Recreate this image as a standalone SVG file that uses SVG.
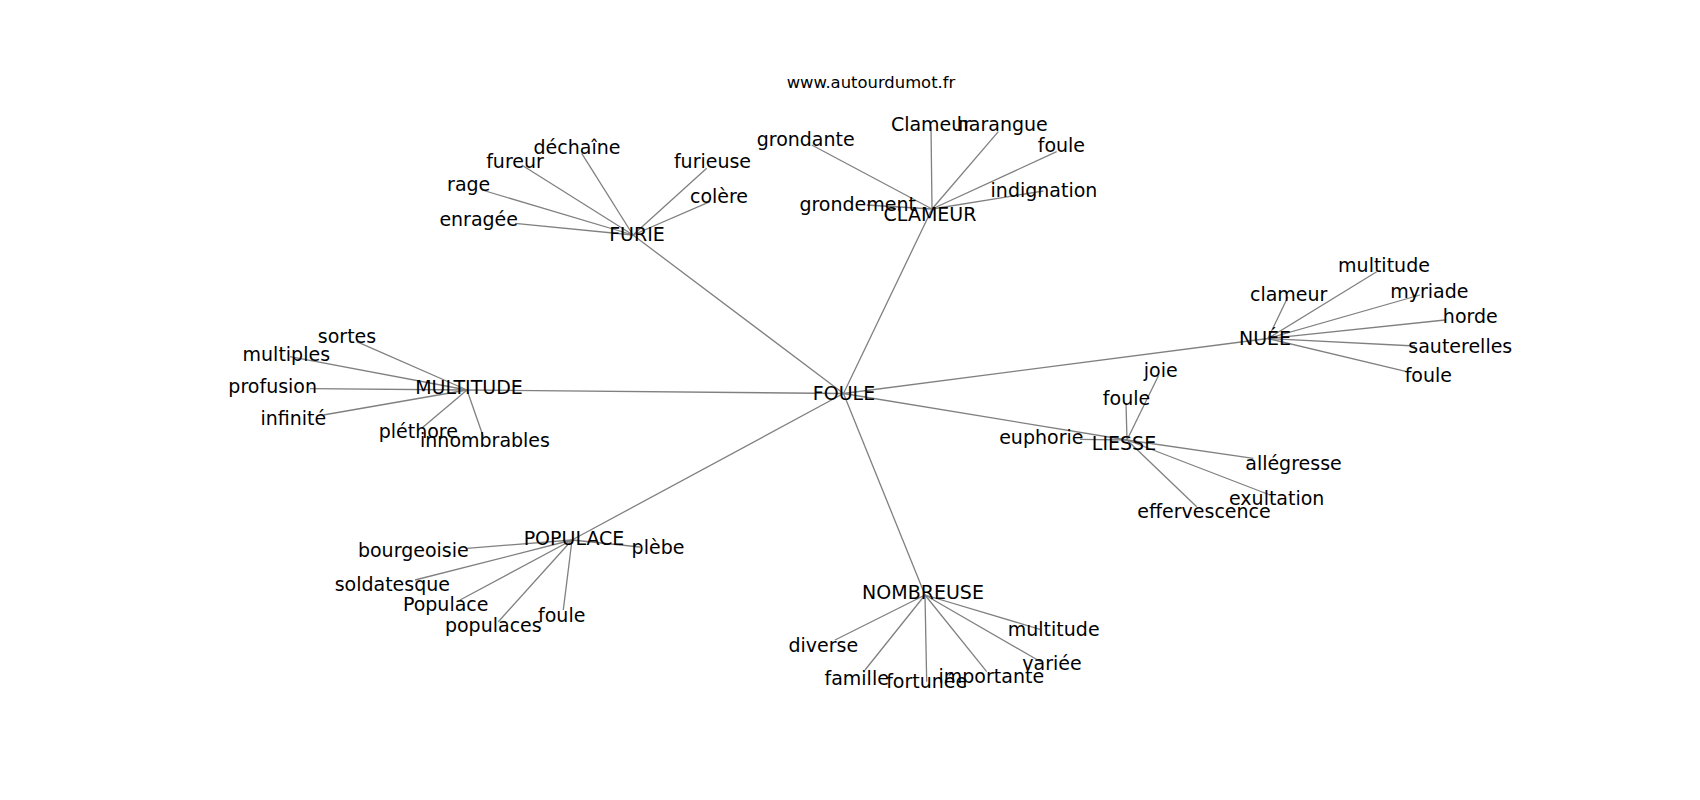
<svg xmlns="http://www.w3.org/2000/svg" width="1700" height="800" viewBox="0 0 1700 800">
<style>
text{font-family:"DejaVu Sans","Liberation Sans",sans-serif;font-size:19px;fill:#000;text-anchor:middle}
.title{font-size:16.4px}
.e line{stroke:#808080;stroke-width:1.3}
</style>
<rect width="1700" height="800" fill="#fff"/>
<g id="connectors" class="e">
<line x1="843.5" y1="393.5" x2="633" y2="235"/>
<line x1="843.5" y1="393.5" x2="932" y2="209"/>
<line x1="843.5" y1="393.5" x2="1268" y2="338.5"/>
<line x1="843.5" y1="393.5" x2="1127" y2="440"/>
<line x1="843.5" y1="393.5" x2="925" y2="595"/>
<line x1="843.5" y1="393.5" x2="572" y2="540"/>
<line x1="843.5" y1="393.5" x2="467" y2="390"/>
<line x1="633" y1="235" x2="581.7" y2="153.3"/>
<line x1="633" y1="235" x2="521.7" y2="165"/>
<line x1="633" y1="235" x2="482" y2="190"/>
<line x1="633" y1="235" x2="515" y2="223.3"/>
<line x1="633" y1="235" x2="706.7" y2="168.3"/>
<line x1="633" y1="235" x2="710" y2="201.7"/>
<line x1="932" y1="209" x2="811.7" y2="145"/>
<line x1="932" y1="209" x2="931" y2="126.7"/>
<line x1="932" y1="209" x2="998.3" y2="131.7"/>
<line x1="932" y1="209" x2="1056.7" y2="151.7"/>
<line x1="932" y1="209" x2="1043.3" y2="191"/>
<line x1="932" y1="209" x2="866.7" y2="205"/>
<line x1="1268" y1="338.5" x2="1288" y2="296.7"/>
<line x1="1268" y1="338.5" x2="1376.7" y2="271.7"/>
<line x1="1268" y1="338.5" x2="1420" y2="295"/>
<line x1="1268" y1="338.5" x2="1445" y2="320"/>
<line x1="1268" y1="338.5" x2="1415" y2="346"/>
<line x1="1268" y1="338.5" x2="1406.7" y2="371.7"/>
<line x1="1127" y1="440" x2="1158.3" y2="376"/>
<line x1="1127" y1="440" x2="1126" y2="403"/>
<line x1="1127" y1="440" x2="1080" y2="439.3"/>
<line x1="1127" y1="440" x2="1253.3" y2="458.3"/>
<line x1="1127" y1="440" x2="1270" y2="495"/>
<line x1="1127" y1="440" x2="1196.7" y2="506.7"/>
<line x1="925" y1="595" x2="835" y2="640"/>
<line x1="925" y1="595" x2="865" y2="670"/>
<line x1="925" y1="595" x2="926.7" y2="681.7"/>
<line x1="925" y1="595" x2="986.7" y2="671.7"/>
<line x1="925" y1="595" x2="1043.3" y2="663.3"/>
<line x1="925" y1="595" x2="1040" y2="629.3"/>
<line x1="572" y1="540" x2="466.7" y2="548.3"/>
<line x1="572" y1="540" x2="415" y2="580"/>
<line x1="572" y1="540" x2="460" y2="600"/>
<line x1="572" y1="540" x2="498.3" y2="621.7"/>
<line x1="572" y1="540" x2="563.3" y2="610"/>
<line x1="572" y1="540" x2="640" y2="547"/>
<line x1="467" y1="390" x2="356.7" y2="341.7"/>
<line x1="467" y1="390" x2="290" y2="356.7"/>
<line x1="467" y1="390" x2="310" y2="388.7"/>
<line x1="467" y1="390" x2="323.3" y2="415"/>
<line x1="467" y1="390" x2="421.7" y2="428.3"/>
<line x1="467" y1="390" x2="483.3" y2="436.7"/>
</g>
<text class="title" x="871" y="88">www.autourdumot.fr</text>
<g id="n-foule"><text x="844" y="400">FOULE</text></g>
<g id="n-furie"><text x="637" y="241">FURIE</text></g>
<g id="n-clameur"><text x="930" y="221">CLAMEUR</text></g>
<g id="n-nuee"><text x="1265" y="345">NUÉE</text></g>
<g id="n-liesse"><text x="1124" y="450">LIESSE</text></g>
<g id="n-nombreuse"><text x="923" y="599">NOMBREUSE</text></g>
<g id="n-populace"><text x="574" y="545">POPULACE</text></g>
<g id="n-multitude"><text x="469" y="394">MULTITUDE</text></g>
<g id="furie-dechaine"><text x="577" y="154">déchaîne</text></g>
<g id="furie-fureur"><text x="515" y="168.3">fureur</text></g>
<g id="furie-rage"><text x="468.7" y="190.7">rage</text></g>
<g id="furie-enragee"><text x="478.7" y="226">enragée</text></g>
<g id="furie-furieuse"><text x="712.5" y="168.3">furieuse</text></g>
<g id="furie-colere"><text x="719" y="202.7">colère</text></g>
<g id="clameur-grondante"><text x="805.7" y="146">grondante</text></g>
<g id="clameur-Clameur"><text x="931" y="131">Clameur</text></g>
<g id="clameur-harangue"><text x="1002.3" y="131">harangue</text></g>
<g id="clameur-foule"><text x="1061.4" y="152.3">foule</text></g>
<g id="clameur-indignation"><text x="1044" y="196.7">indignation</text></g>
<g id="clameur-grondement"><text x="857.7" y="211">grondement</text></g>
<g id="nuee-clameur"><text x="1288.7" y="301">clameur</text></g>
<g id="nuee-multitude"><text x="1384" y="271.7">multitude</text></g>
<g id="nuee-myriade"><text x="1429.3" y="298.3">myriade</text></g>
<g id="nuee-horde"><text x="1470.3" y="322.7">horde</text></g>
<g id="nuee-sauterelles"><text x="1460.3" y="353.3">sauterelles</text></g>
<g id="nuee-foule"><text x="1428.3" y="381.7">foule</text></g>
<g id="liesse-joie"><text x="1160.7" y="376.7">joie</text></g>
<g id="liesse-foule"><text x="1126.5" y="404.5">foule</text></g>
<g id="liesse-euphorie"><text x="1041.3" y="444">euphorie</text></g>
<g id="liesse-allegresse"><text x="1293.5" y="470">allégresse</text></g>
<g id="liesse-exultation"><text x="1276.7" y="505">exultation</text></g>
<g id="liesse-effervescence"><text x="1204" y="517.5">effervescence</text></g>
<g id="nombreuse-diverse"><text x="823.3" y="651.7">diverse</text></g>
<g id="nombreuse-famille"><text x="856.7" y="685">famille</text></g>
<g id="nombreuse-fortunee"><text x="926.7" y="688.3">fortunée</text></g>
<g id="nombreuse-importante"><text x="991.3" y="683.3">importante</text></g>
<g id="nombreuse-variee"><text x="1052" y="670">variée</text></g>
<g id="nombreuse-multitude"><text x="1053.7" y="636">multitude</text></g>
<g id="populace-bourgeoisie"><text x="413.3" y="556.7">bourgeoisie</text></g>
<g id="populace-soldatesque"><text x="392.3" y="590.7">soldatesque</text></g>
<g id="populace-Populace"><text x="445.7" y="610.7">Populace</text></g>
<g id="populace-populaces"><text x="493.3" y="631.7">populaces</text></g>
<g id="populace-foule"><text x="561.7" y="621.7">foule</text></g>
<g id="populace-plebe"><text x="658" y="554">plèbe</text></g>
<g id="multitude-sortes"><text x="347" y="343.3">sortes</text></g>
<g id="multitude-multiples"><text x="286.3" y="360.7">multiples</text></g>
<g id="multitude-profusion"><text x="272.7" y="393.3">profusion</text></g>
<g id="multitude-infinite"><text x="293.3" y="425">infinité</text></g>
<g id="multitude-plethore"><text x="418.3" y="438.3">pléthore</text></g>
<g id="multitude-innombrables"><text x="485" y="446.7">innombrables</text></g>
</svg>
